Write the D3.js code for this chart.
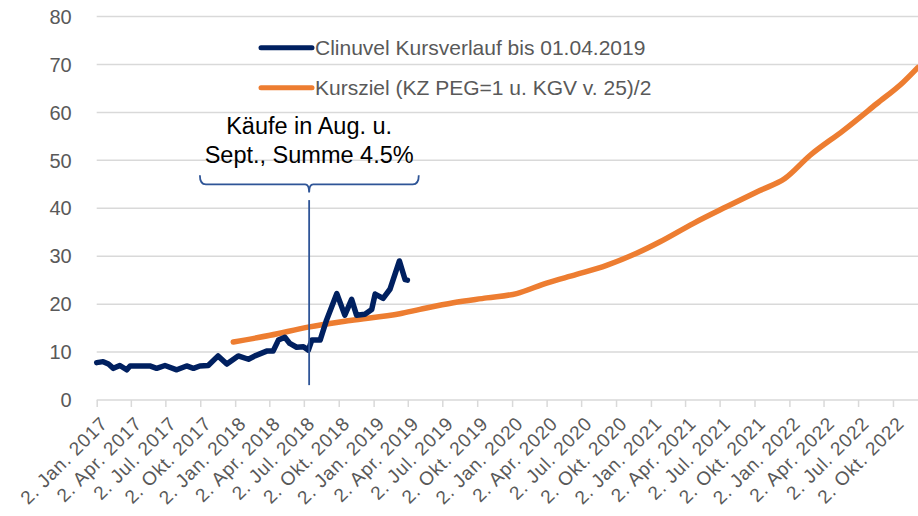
<!DOCTYPE html>
<html>
<head>
<meta charset="utf-8">
<script src="https://cdn.jsdelivr.net/npm/d3@7"></script>
<style>
  body { margin: 0; background: #fff; }
  svg { display: block; }
</style>
</head>
<body>
<div id="chart"></div>
<script>
// data
var kursDates = ["2017-01-02","2017-01-19","2017-02-02","2017-02-15","2017-03-04","2017-03-22","2017-03-31",
    "2017-05-22","2017-06-09","2017-07-01","2017-08-01","2017-08-27","2017-09-14","2017-10-01","2017-10-23",
    "2017-11-18","2017-12-11","2018-01-10","2018-02-06","2018-02-23","2018-03-26","2018-04-12","2018-04-26",
    "2018-05-13","2018-05-26","2018-06-13","2018-07-01","2018-07-14","2018-07-23","2018-08-14","2018-08-31",
    "2018-09-27","2018-10-18","2018-11-05","2018-11-18","2018-12-10","2018-12-28","2019-01-06","2019-01-27",
    "2019-02-14","2019-03-11","2019-03-26","2019-04-01"];
var kursValues = [7.8, 8.0, 7.5, 6.6, 7.2, 6.3, 7.1,
    7.1, 6.6, 7.2, 6.3, 7.1, 6.6, 7.1, 7.2,
    9.2, 7.5, 9.2, 8.5, 9.2, 10.2, 10.2, 12.5,
    13.1, 11.8, 11.0, 11.1, 10.4, 12.5, 12.5, 16.7,
    22.2, 17.7, 21.0, 17.7, 17.9, 18.9, 22.1, 21.2,
    23.1, 29.0, 25.1, 25.0];

var zielDates = ["2017-12-28","2018-04-04","2018-07-13","2018-11-01","2019-03-12","2019-05-04","2019-07-31",
    "2019-10-27","2020-01-14","2020-04-02","2020-06-20","2020-09-07","2020-11-25","2021-01-26","2021-04-23",
    "2021-07-20","2021-10-16","2021-12-21","2022-02-25","2022-05-24","2022-08-20","2022-10-29","2022-12-07"];
var zielValues = [12.1, 13.5, 15.2, 16.6, 18.0, 18.9, 20.3,
    21.3, 22.2, 24.4, 26.2, 28.1, 30.6, 33.0, 36.8,
    40.3, 43.7, 46.2, 51.0, 56.2, 61.8, 66.3, 69.4];

var seriesNames = ["Clinuvel Kursverlauf bis 01.04.2019", "Kursziel (KZ PEG=1 u. KGV v. 25)/2"];
var seriesColors = ["#002060", "#ED7D31"];

var yTicks = [0, 10, 20, 30, 40, 50, 60, 70, 80];
var xTickLabels = ["2. Jan. 2017","2. Apr. 2017","2. Jul. 2017","2. Okt. 2017",
    "2. Jan. 2018","2. Apr. 2018","2. Jul. 2018","2. Okt. 2018",
    "2. Jan. 2019","2. Apr. 2019","2. Jul. 2019","2. Okt. 2019",
    "2. Jan. 2020","2. Apr. 2020","2. Jul. 2020","2. Okt. 2020",
    "2. Jan. 2021","2. Apr. 2021","2. Jul. 2021","2. Okt. 2021",
    "2. Jan. 2022","2. Apr. 2022","2. Jul. 2022","2. Okt. 2022"];

var noteLines = ["Käufe in Aug. u.", "Sept., Summe 4.5%"];
var noteDate = "2018-07-16";
var braceFrom = "2017-10-01", braceTo = "2019-05-01";

// set up svg
var svgWidth = 918;
var svgHeight = 516;
var margin = {top: 16.5, right: 0, bottom: 116, left: 96.7};
var width = svgWidth - margin.left - margin.right;
var height = svgHeight - margin.top - margin.bottom;

var parseDate = d3.utcParse("%Y-%m-%d");
var monthIdx = {"Jan.": 0, "Apr.": 3, "Jul.": 6, "Okt.": 9};
function labelToDate(s) {
    var p = s.split(" ");
    return new Date(Date.UTC(+p[2], monthIdx[p[1]], 2));
}

var svg = d3.select("#chart")
    .append("svg")
    .attr("width", svgWidth)
    .attr("height", svgHeight);

var chartGroup = svg.append("g")
    .attr("transform", `translate(${margin.left}, ${margin.top})`);

var xScale = d3.scaleUtc()
    .domain([parseDate("2017-01-02"), parseDate("2022-12-07")])
    .range([0, width]);

var yScale = d3.scaleLinear()
    .domain([0, 80])
    .range([height, 0]);

// gridlines
chartGroup.selectAll(".grid")
    .data(yTicks.filter(d => d > 0))
    .enter()
    .append("line")
    .attr("x1", 0)
    .attr("x2", width)
    .attr("y1", d => yScale(d))
    .attr("y2", d => yScale(d))
    .attr("stroke", "#d9d9d9")
    .attr("stroke-width", 1.5);

// y labels
chartGroup.selectAll(".ylab")
    .data(yTicks)
    .enter()
    .append("text")
    .attr("x", -25)
    .attr("y", d => yScale(d))
    .attr("dy", "0.36em")
    .attr("text-anchor", "end")
    .attr("font-family", "Liberation Sans, Arial, sans-serif")
    .attr("font-size", 20)
    .attr("fill", "#595959")
    .text(d => d);

// x axis
var xAxis = d3.axisBottom(xScale)
    .tickValues(xTickLabels.map(labelToDate))
    .tickSize(7)
    .tickFormat((d, i) => xTickLabels[i]);

var xg = chartGroup.append("g")
    .attr("transform", `translate(0, ${height})`)
    .call(xAxis);
xg.select(".domain").attr("stroke", "#d9d9d9").attr("stroke-width", 1.5)
    .attr("d", `M0,0H${width}`);
xg.selectAll(".tick line").attr("stroke", "#d9d9d9").attr("stroke-width", 1.5);
xg.selectAll(".tick text")
    .attr("font-family", "Liberation Sans, Arial, sans-serif")
    .attr("font-size", 19)
    .attr("letter-spacing", 0.8)
    .attr("fill", "#595959")
    .attr("text-anchor", "end")
    .attr("y", 0).attr("x", 0).attr("dy", "0.35em")
    .attr("transform", "translate(7, 20) rotate(-45)");

// lines
var line = d3.line()
    .x(d => xScale(d[0]))
    .y(d => yScale(d[1]));

var zielData = zielDates.map((d, i) => [parseDate(d), zielValues[i]]);
var kursData = kursDates.map((d, i) => [parseDate(d), kursValues[i]]);

chartGroup.append("path")
    .datum(zielData)
    .attr("fill", "none")
    .attr("stroke", seriesColors[1])
    .attr("stroke-width", 5.5)
    .attr("stroke-linecap", "round")
    .attr("stroke-linejoin", "round")
    .attr("d", line.curve(d3.curveMonotoneX));

chartGroup.append("path")
    .datum(kursData)
    .attr("fill", "none")
    .attr("stroke", seriesColors[0])
    .attr("stroke-width", 5.5)
    .attr("stroke-linecap", "round")
    .attr("stroke-linejoin", "round")
    .attr("d", line.curve(d3.curveLinear));

// annotation: line, brace and text
var noteX = xScale(parseDate(noteDate));
var annoColor = "#2F5597";
chartGroup.append("line")
    .attr("x1", noteX).attr("x2", noteX)
    .attr("y1", yScale(41.7)).attr("y2", yScale(3.1))
    .attr("stroke", annoColor).attr("stroke-width", 1.8);

var bx0 = xScale(parseDate(braceFrom)), bx1 = xScale(parseDate(braceTo));
var bTop = yScale(46.9), bMid = yScale(45.0), bTip = yScale(43.3);
chartGroup.append("path")
    .attr("d", `M${bx0},${bTop} Q${bx0},${bMid} ${bx0 + 6},${bMid} L${noteX - 4},${bMid} Q${noteX},${bMid} ${noteX},${bTip}`
        + ` M${noteX},${bTip} Q${noteX},${bMid} ${noteX + 4},${bMid} L${bx1 - 6},${bMid} Q${bx1},${bMid} ${bx1},${bTop}`)
    .attr("fill", "none")
    .attr("stroke", annoColor)
    .attr("stroke-width", 1.8);

chartGroup.selectAll(".note")
    .data(noteLines)
    .enter()
    .append("text")
    .attr("x", noteX)
    .attr("y", (d, i) => yScale(55.4) + i * 28.5)
    .attr("text-anchor", "middle")
    .attr("font-family", "Liberation Sans, Arial, sans-serif")
    .attr("font-size", 23.5)
    .attr("fill", "#000")
    .text(d => d);

// legend
var legend = svg.append("g");
seriesNames.forEach(function (name, i) {
    var ly = 47.7 + i * 40;
    legend.append("line")
        .attr("x1", 261).attr("x2", 312)
        .attr("y1", ly).attr("y2", ly)
        .attr("stroke", seriesColors[i])
        .attr("stroke-width", 5)
        .attr("stroke-linecap", "round");
    legend.append("text")
        .attr("x", 315)
        .attr("y", ly)
        .attr("dy", "0.36em")
        .attr("font-family", "Liberation Sans, Arial, sans-serif")
        .attr("font-size", 21)
        .attr("fill", "#595959")
        .text(name);
});
</script>
</body>
</html>
